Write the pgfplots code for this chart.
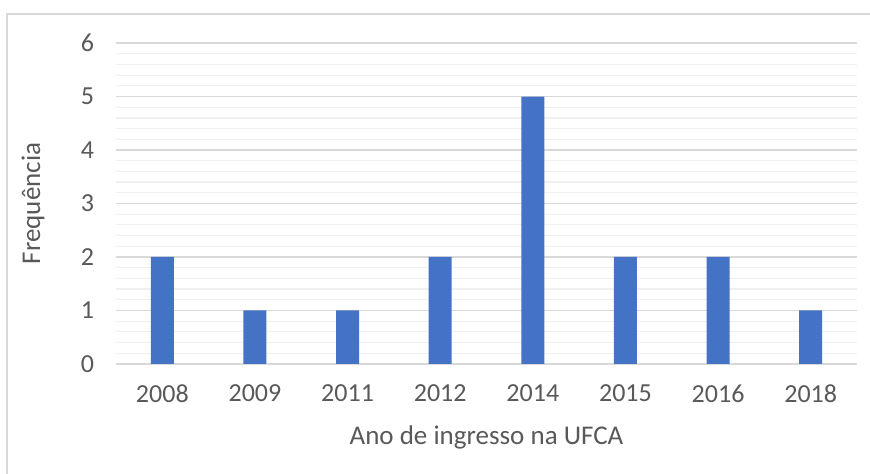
\documentclass[border=0pt]{standalone}
\usepackage{pgfplots}
\pgfplotsset{compat=1.18}
\usepackage{fontspec}
\setmainfont{Carlito}
\definecolor{barblue}{HTML}{4472C4}
\definecolor{txt}{HTML}{595959}
\definecolor{majgrid}{HTML}{D9D9D9}
\definecolor{mingrid}{HTML}{F0F0F0}
\begin{document}
\begin{tikzpicture}
\useasboundingbox (0pt,0pt) rectangle (435pt,237pt);
\draw[majgrid,line width=0.6pt] (3.5pt,0pt) -- (3.5pt,230pt) -- (435pt,230pt);
\begin{axis}[
  at={(58pt,55pt)}, anchor=south west,
  width=370.5pt, height=160.5pt, scale only axis,
  xmin=-0.5, xmax=7.5, ymin=0, ymax=6,
  xtick={0,...,7},
  xticklabels={2008,2009,2011,2012,2014,2015,2016,2018},
  ytick={0,1,...,6},
  minor y tick num=4,
  ymajorgrids, yminorgrids,
  major grid style={majgrid,line width=0.6pt},
  minor grid style={mingrid,line width=0.6pt},
  axis x line*=bottom, axis y line*=left,
  x axis line style={majgrid,line width=0.8pt,-},
  y axis line style={draw=none},
  major tick length=0pt, minor tick length=0pt,
  tick style={draw=none},
  ticklabel style={font=\fontsize{13}{15}\selectfont, text=txt},
  /pgf/number format/assume math mode=true,
  xticklabel style={yshift=-7pt},
  yticklabel style={xshift=-7.5pt},
  xlabel={Ano de ingresso na UFCA},
  ylabel={Frequência},
  label style={font=\fontsize{13.5}{15}\selectfont, text=txt},
  xlabel style={at={(axis description cs:0.5,-0.2274)}, anchor=center},
  ylabel style={at={(axis description cs:-0.112,0.5)}, anchor=center, rotate=0},
  clip=false,
]
\addplot[ybar, bar width=11.5pt, fill=barblue, draw=none] coordinates {
  (0,2) (1,1) (2,1) (3,2) (4,5) (5,2) (6,2) (7,1)
};
\end{axis}
\end{tikzpicture}
\end{document}
